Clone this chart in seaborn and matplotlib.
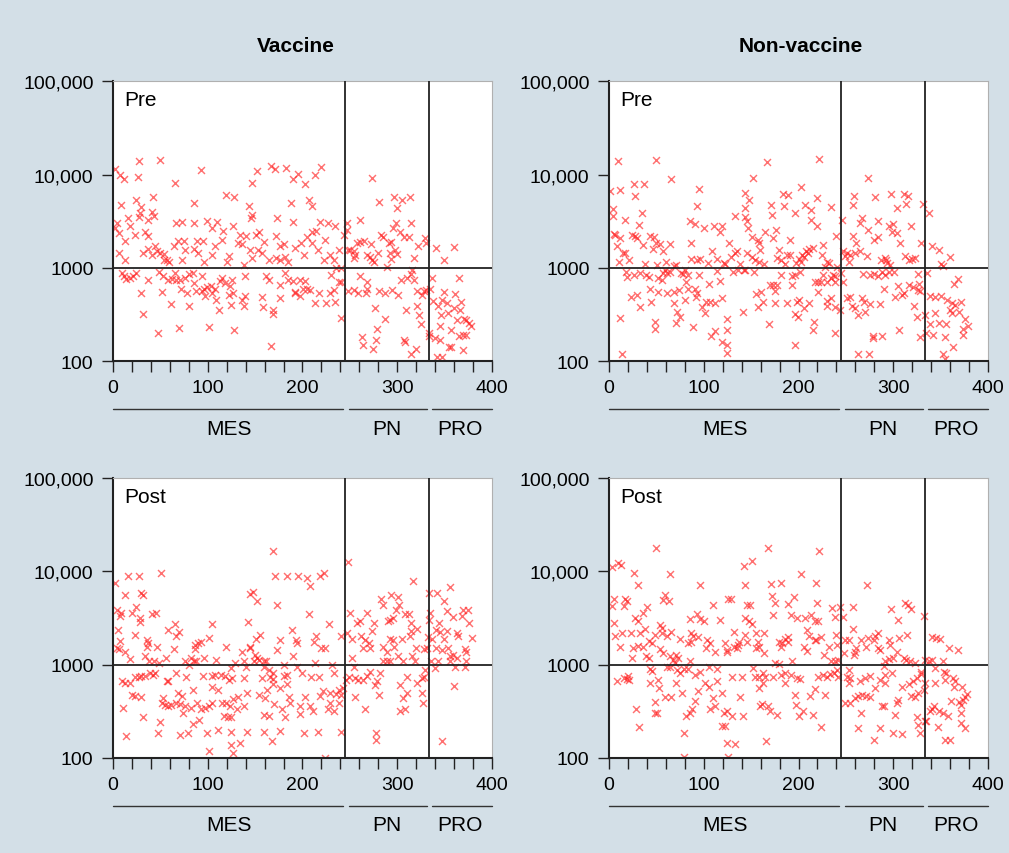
import pandas as pd
import seaborn as sns
import matplotlib.pyplot as plt
import matplotlib.transforms as mtransforms
from matplotlib.ticker import MultipleLocator, NullLocator

sns.set_style('ticks')
plt.rcParams['font.family'] = ['Liberation Sans', 'DejaVu Sans']
plt.rcParams['text.color'] = 'black'
plt.rcParams['xtick.color'] = '#222222'
plt.rcParams['ytick.color'] = '#222222'
plt.rcParams['xtick.labelcolor'] = 'black'
plt.rcParams['ytick.labelcolor'] = 'black'

# (sample index, value), one list per panel
vac_pre = [
    (2, 11500), (7, 10000), (12, 9000), (26, 9400), (27, 14000), (50, 14400), (65, 8200), (93, 11200), (119, 6100), (128, 5800),
    (42, 5800), (24, 5400), (8, 4700), (30, 4500), (86, 5000), (28, 3900), (41, 4000), (43, 3600), (37, 3300), (27, 3500),
    (4, 3000), (16, 3400), (18, 2800), (2, 2700), (6, 2350), (13, 1950), (23, 2250), (34, 2400), (37, 2200), (67, 3000),
    (73, 3100), (86, 3000), (99, 3200), (104, 2700), (110, 3100), (116, 2500), (127, 2800),
    (44, 1700), (46, 1500), (37, 1600), (32, 1450), (41, 1380), (50, 1450), (54, 1400), (57, 1220), (59, 1170), (54, 1220),
    (64, 1700), (69, 1950), (75, 1950), (76, 1560), (73, 1220), (86, 1600), (89, 1950), (95, 1950), (90, 1450), (96, 1170),
    (104, 1380), (108, 1700), (115, 2000), (120, 1170), (122, 1350), (6, 1450), (13, 1200),
    (9, 890), (12, 810), (14, 760), (18, 780), (21, 810), (24, 880), (37, 740), (49, 910), (53, 810), (58, 740),
    (62, 760), (65, 880), (66, 740), (71, 740), (76, 780), (80, 860), (84, 880), (86, 690), (94, 820), (96, 590),
    (103, 640), (108, 590), (113, 730), (115, 780), (118, 690), (124, 640), (126, 740), (72, 600), (78, 535), (80, 390),
    (88, 560), (94, 560), (97, 500), (99, 630), (105, 535), (109, 455), (122, 510), (125, 400), (112, 355), (30, 535),
    (52, 545), (61, 410), (32, 320), (47, 200), (70, 225), (101, 235), (128, 215),
    (167, 12400), (171, 11400), (152, 11000), (183, 11700), (195, 10200), (190, 9000), (203, 7900), (213, 10000), (220, 12000), (147, 8200),
    (144, 4600), (188, 5000), (207, 5400), (210, 4600), (147, 3700), (146, 3400), (173, 3400), (190, 3100), (219, 3100),
    (227, 3000), (234, 2800), (134, 2250), (140, 2200), (151, 2250), (154, 2450), (172, 2200), (159, 1900), (132, 1850),
    (136, 1800), (145, 1550), (147, 1270), (153, 1550), (157, 1450), (176, 1700), (181, 1800), (192, 1650), (198, 1850), (205, 2150),
    (210, 2400), (214, 2500), (210, 1850), (202, 1380), (216, 1550), (224, 2000), (229, 1380), (223, 1220), (233, 1200), (239, 1550),
    (244, 2250), (247, 3000), (248, 1550), (138, 1080), (165, 1200), (172, 1270), (176, 1220), (182, 1320), (185, 1170), (162, 810),
    (165, 740), (176, 660), (182, 880), (185, 740), (190, 720), (197, 740), (203, 730), (205, 590), (201, 590), (208, 580),
    (192, 555), (197, 500), (217, 535), (229, 535), (233, 580), (238, 700), (241, 710), (230, 840), (235, 990),
    (139, 810), (127, 535), (136, 455), (139, 500), (138, 390), (158, 385), (157, 490), (169, 355),
    (169, 320), (176, 475), (192, 540), (213, 420), (225, 420), (234, 435), (241, 290), (167, 145),
    (273, 9300), (281, 5100), (297, 5800), (305, 5300), (313, 5800), (300, 4350), (261, 3250), (299, 3050), (315, 3000), (296, 2700),
    (247, 2550), (283, 2250), (285, 2150), (303, 2400), (307, 2150), (312, 2150), (293, 1900), (291, 1850), (329, 2100), (330, 1850),
    (322, 1700), (257, 1850), (261, 1900), (265, 1950), (272, 1800), (250, 1550), (254, 1500), (255, 1380), (254, 1270), (268, 1380),
    (271, 1320), (273, 1220), (275, 1170), (280, 1450), (292, 1450), (293, 1240), (298, 1550), (300, 1400), (318, 1270), (289, 1030),
    (241, 990), (316, 940), (261, 820), (268, 700), (268, 600), (248, 570), (254, 580), (259, 540), (267, 535), (281, 570),
    (287, 540), (294, 580), (301, 510), (304, 740), (310, 780), (314, 860), (318, 740), (321, 560), (326, 510), (328, 570),
    (330, 580), (321, 390), (323, 315), (325, 250), (277, 370), (287, 280), (279, 220), (309, 355), (263, 180), (264, 150),
    (278, 170), (274, 135), (307, 170), (308, 160), (320, 135), (314, 120), (333, 200),
    (341, 1620), (360, 1690), (349, 1220), (337, 780), (365, 770), (335, 590), (349, 555), (361, 520), (367, 435), (338, 440),
    (343, 390), (347, 455), (352, 425), (360, 370), (366, 355), (346, 310), (354, 330), (345, 240), (363, 275), (370, 280),
    (373, 275), (376, 255), (378, 240), (357, 215), (365, 185), (369, 190), (373, 190), (334, 185), (340, 175), (345, 170),
    (355, 140), (357, 140), (369, 132), (342, 110), (347, 110),
]

nonvac_pre = [
    (9, 14000), (50, 14400), (65, 9000), (1, 6700), (12, 6850), (26, 7900), (37, 7900), (27, 5900), (95, 7100), (93, 4600),
    (4, 4250), (4, 3600), (35, 3850), (17, 3300), (32, 2900), (85, 3150), (91, 2950), (100, 2650), (111, 2800), (117, 2400),
    (119, 2800), (5, 2300), (6, 2250), (12, 2100), (24, 2250), (27, 2200), (30, 2100), (43, 2200), (47, 2150), (8, 1700),
    (36, 1750), (46, 1600), (50, 1850), (54, 1800), (64, 1800), (87, 1850), (15, 1450), (17, 1440), (57, 1500), (109, 1500),
    (127, 1870), (10, 1170), (21, 1220), (38, 1100), (51, 1080), (60, 1170), (71, 1080), (86, 1240), (93, 1220), (96, 1240),
    (104, 1120), (114, 1240), (121, 1140), (18, 910), (19, 800), (26, 840), (33, 890), (39, 840), (42, 800), (52, 780),
    (57, 890), (59, 950), (61, 880), (64, 910), (56, 740), (69, 1050), (76, 890), (80, 950), (78, 860), (83, 840),
    (81, 710), (95, 840), (106, 670), (114, 930), (117, 730), (23, 490), (29, 510), (33, 385), (43, 590), (44, 435),
    (52, 555), (61, 535), (69, 545), (74, 580), (69, 420), (72, 340), (75, 300), (71, 255), (80, 455), (83, 590),
    (91, 600), (93, 535), (92, 490), (98, 385), (102, 435), (107, 435), (112, 425), (119, 475), (101, 325), (89, 235),
    (12, 290), (49, 265), (49, 220), (108, 185), (112, 210), (119, 160), (124, 280), (124, 215), (14, 120),
    (167, 13800), (222, 14600), (152, 9300), (203, 7450), (143, 6300), (148, 5300), (184, 6200), (189, 6000), (219, 5600), (171, 4750),
    (185, 4600), (207, 4750), (213, 4200), (234, 4450), (143, 4350), (133, 3600), (144, 3550), (172, 3700), (196, 3850), (146, 3200),
    (213, 3250), (220, 2800), (147, 2650), (176, 2550), (151, 2150), (165, 2400), (173, 2100), (157, 2000), (158, 1850), (159, 1550),
    (191, 2000), (226, 1760), (240, 2200), (133, 1450), (146, 1450), (151, 1320), (154, 1220), (158, 1170), (164, 1100), (179, 1550),
    (177, 1270), (182, 1220), (186, 1100), (188, 1380), (191, 1380), (197, 1140), (201, 1240), (204, 1380), (208, 1500), (211, 1580),
    (215, 1620), (210, 1460), (206, 1320), (203, 1170), (225, 1380), (230, 1170), (232, 1140), (122, 1100), (129, 1320), (135, 1500),
    (131, 910), (136, 950), (138, 1100), (142, 950), (144, 960), (153, 910), (182, 840), (193, 820), (196, 840), (202, 910),
    (226, 840), (228, 1030), (236, 840), (239, 810), (241, 1030), (170, 660), (173, 660), (177, 660), (193, 660), (217, 700),
    (221, 700), (224, 700), (230, 700), (234, 770), (239, 710), (175, 570), (155, 525), (160, 555), (162, 435), (157, 385),
    (175, 420), (188, 420), (198, 435), (201, 455), (211, 420), (206, 370), (221, 555), (230, 445), (234, 475), (230, 390),
    (239, 385), (244, 350), (141, 335), (196, 320), (199, 295), (216, 265), (169, 250), (215, 215), (238, 200), (196, 150),
    (125, 150), (125, 122),
    (273, 9300), (259, 5900), (257, 4700), (281, 5800), (298, 6150), (311, 6150), (316, 5900), (313, 4850), (304, 4400), (331, 4850),
    (246, 3250), (267, 3450), (265, 3050), (284, 3200), (273, 2550), (296, 2800), (300, 2950), (299, 2450), (304, 2350), (319, 2800),
    (258, 2200), (261, 1870), (284, 2150), (280, 2000), (307, 1850), (329, 1850), (247, 1500), (251, 1440), (249, 1350), (254, 1380),
    (253, 1170), (260, 1450), (265, 1500), (272, 1350), (287, 1220), (291, 1270), (292, 1200), (293, 1140), (297, 1080), (312, 1350),
    (317, 1220), (320, 1240), (323, 1270), (245, 880), (247, 710), (268, 860), (275, 840), (280, 860), (284, 820), (288, 910),
    (291, 840), (295, 910), (301, 910), (326, 860), (290, 600), (305, 640), (309, 510), (311, 540), (317, 660), (321, 630),
    (326, 580), (328, 560), (327, 670), (251, 470), (254, 490), (256, 390), (260, 375), (267, 470), (269, 435), (275, 410),
    (286, 410), (302, 490), (263, 315), (270, 340), (322, 390), (325, 300), (306, 215), (279, 185), (279, 175), (288, 185),
    (263, 120), (274, 118), (328, 180),
    (338, 3900), (336, 880), (341, 1720), (348, 1560), (360, 1320), (350, 1100), (353, 1050), (368, 760), (364, 670), (339, 500),
    (344, 490), (350, 500), (357, 455), (362, 420), (372, 435), (365, 400), (360, 350), (362, 330), (369, 335), (356, 250),
    (344, 330), (334, 315), (339, 250), (348, 255), (376, 280), (379, 240), (374, 220), (374, 190), (335, 200), (342, 190),
    (355, 180), (363, 140), (353, 120), (355, 105),
]

vac_post = [
    (51, 9700), (16, 9000), (27, 9000), (2, 7550), (13, 5550), (30, 5900), (32, 5550), (24, 4100), (4, 3850), (8, 3600),
    (7, 3300), (20, 3600), (41, 3500), (45, 3600), (29, 3150), (28, 2850), (65, 2750), (104, 2750), (58, 2350), (70, 2250),
    (67, 2000), (5, 2350), (23, 2050), (7, 1800), (36, 1840), (37, 1700), (101, 1950), (93, 1760), (90, 1720), (87, 1620),
    (87, 1460), (4, 1500), (6, 1460), (13, 1380), (36, 1530), (46, 1530), (64, 1460), (119, 1530), (18, 1140), (34, 1220),
    (38, 1080), (43, 1080), (49, 1030), (56, 1170), (76, 1080), (82, 1170), (88, 1080), (96, 1170), (109, 1120), (80, 1000),
    (86, 1080), (9, 670), (13, 640), (18, 630), (23, 740), (27, 730), (30, 760), (34, 760), (39, 810), (42, 780),
    (44, 820), (58, 670), (66, 810), (77, 740), (95, 760), (105, 760), (108, 780), (114, 780), (118, 760), (122, 690),
    (126, 710), (57, 660), (104, 580), (111, 535), (20, 470), (23, 455), (30, 450), (53, 435), (69, 490), (73, 460),
    (84, 530), (11, 345), (52, 385), (55, 370), (58, 360), (61, 370), (66, 390), (71, 380), (76, 355), (82, 340),
    (74, 305), (89, 390), (93, 330), (97, 340), (101, 360), (105, 390), (115, 385), (119, 390), (124, 355), (117, 280),
    (121, 277), (125, 275), (32, 277), (50, 240), (48, 185), (14, 170), (84, 230), (79, 185), (71, 175), (91, 255),
    (99, 185), (111, 200), (125, 187), (125, 138), (101, 117), (127, 112),
    (169, 16600), (171, 9000), (184, 9000), (195, 8800), (205, 8500), (218, 9000), (223, 9600), (208, 7000), (145, 5700), (148, 6050),
    (152, 4850), (173, 4350), (207, 3500), (143, 2850), (228, 2700), (189, 2350), (155, 2050), (151, 1870), (176, 1840), (193, 1840),
    (214, 2000), (194, 1690), (212, 1760), (145, 1560), (145, 1500), (173, 1440), (220, 1500), (224, 1500), (136, 1380), (150, 1270),
    (152, 1170), (149, 1080), (154, 1120), (159, 1080), (162, 1080), (190, 1240), (138, 1100), (129, 1030), (140, 950), (125, 910),
    (159, 950), (180, 1000), (194, 950), (213, 1030), (231, 1000), (165, 880), (180, 760), (138, 710), (157, 710), (169, 810),
    (169, 700), (166, 740), (199, 810), (209, 740), (217, 740), (233, 810), (184, 780), (176, 555), (169, 620), (184, 620),
    (141, 500), (132, 450), (154, 470), (160, 435), (163, 530), (170, 380), (186, 450), (187, 390), (203, 450), (197, 360),
    (208, 360), (218, 465), (222, 515), (229, 490), (235, 485), (239, 390), (229, 390), (238, 535), (243, 555), (127, 425),
    (131, 330), (138, 360), (159, 290), (165, 280), (178, 330), (182, 277), (197, 295), (211, 315), (227, 330), (233, 315),
    (141, 190), (159, 190), (176, 195), (168, 150), (202, 185), (216, 187), (241, 187), (134, 144), (224, 100),
    (248, 12700), (317, 7900), (293, 5550), (283, 5000), (285, 4400), (301, 5350), (302, 4400), (299, 3850),
    (250, 3550), (268, 3600), (308, 3500), (312, 3500), (296, 3150), (292, 3000), (290, 2900),
    (257, 2800), (261, 2900), (275, 2800), (315, 2800), (321, 2400), (314, 2300), (273, 2300), (247, 2200), (241, 2000), (252, 1870),
    (262, 2000), (266, 1840), (270, 1720), (271, 1500), (264, 1500), (292, 1870), (296, 1840), (305, 1870), (313, 2000), (332, 1990),
    (285, 1530), (289, 1380), (297, 1560), (320, 1500), (328, 1460), (331, 1500), (252, 1170), (285, 1100), (289, 1100), (292, 1080),
    (301, 1220), (306, 1080), (316, 1220), (319, 1100), (254, 940), (329, 880), (249, 740), (255, 710), (259, 690), (264, 675),
    (268, 760), (271, 840), (282, 810), (279, 660), (277, 600), (310, 740), (303, 600), (321, 640), (326, 710), (328, 730),
    (246, 685), (241, 470), (255, 450), (281, 470), (306, 435), (310, 490), (326, 490), (327, 390), (266, 330), (303, 320),
    (308, 330), (278, 185), (278, 156),
    (334, 5800), (342, 5900), (356, 6850), (349, 4750), (352, 3750), (369, 3850), (375, 3800), (359, 3200), (368, 3300), (335, 3550),
    (333, 3000), (344, 2800), (376, 2800), (341, 2350), (345, 2250), (352, 2300), (363, 2200), (364, 2000), (337, 1870), (349, 1870),
    (379, 1950), (341, 1500), (347, 1440), (354, 1500), (372, 1460), (373, 1380), (336, 1080), (343, 1080), (356, 1220), (359, 1270),
    (363, 1170), (356, 1100), (373, 1080), (340, 910), (361, 940), (371, 950), (360, 590), (347, 153),
]

nonvac_post = [
    (50, 17600), (3, 11200), (9, 12200), (13, 11700), (26, 9700), (64, 9400), (31, 7150), (96, 7150), (59, 5550), (57, 4950),
    (63, 4750), (5, 5000), (17, 5000), (19, 4750), (3, 4250), (16, 4250), (40, 4100), (36, 3550), (110, 4350), (126, 5000),
    (27, 3150), (31, 2950), (85, 3050), (93, 3500), (96, 3050), (100, 2900), (117, 3000), (5, 2800), (54, 2650), (56, 2450),
    (6, 2000), (14, 2200), (23, 2200), (33, 2170), (38, 2400), (48, 2080), (56, 2170), (61, 2000), (65, 2250), (75, 1870),
    (86, 2200), (89, 2000), (94, 1990), (103, 1840), (107, 1690), (12, 1560), (25, 1500), (31, 1580), (36, 1560), (42, 1810),
    (45, 1690), (54, 1460), (57, 1320), (83, 1720), (86, 1760), (102, 1500), (112, 1380), (124, 1380), (122, 1690), (124, 1440),
    (24, 1170), (39, 1240), (42, 1170), (64, 1220), (67, 1120), (71, 1270), (73, 1170), (70, 1030), (85, 1080), (43, 890),
    (45, 860), (61, 940), (64, 940), (72, 880), (75, 810), (79, 890), (83, 890), (91, 780), (96, 840), (105, 950),
    (114, 890), (8, 660), (16, 710), (19, 700), (21, 675), (20, 760), (43, 630), (52, 685), (53, 555), (71, 640),
    (101, 630), (105, 570), (114, 670), (119, 490), (59, 450), (65, 450), (77, 490), (94, 515), (110, 435), (48, 400),
    (91, 410), (112, 355), (88, 330), (28, 330), (49, 300), (51, 300), (107, 330), (85, 300), (81, 282), (121, 305),
    (32, 213), (79, 184), (119, 217), (122, 217), (124, 144), (79, 103),
    (168, 17600), (222, 16700), (151, 13000), (142, 11400), (203, 9400), (144, 7150), (171, 7300), (182, 7450), (218, 7450), (129, 5000),
    (172, 5400), (175, 4550), (189, 4450), (195, 5250), (219, 4600), (146, 4350), (149, 4350), (235, 4000), (244, 4150), (173, 3400),
    (192, 3400), (198, 3150), (207, 3150), (213, 3400), (217, 2950), (221, 2950), (239, 3200), (247, 3200), (143, 3150), (148, 2900),
    (151, 2750), (132, 2250), (144, 2080), (155, 2200), (164, 2200), (189, 1960), (189, 1760), (209, 2350), (211, 2000), (218, 1840),
    (224, 1990), (240, 2080), (137, 1760), (146, 1760), (157, 1760), (158, 1560), (155, 1500), (179, 1760), (183, 1690), (182, 1530),
    (186, 1870), (206, 1530), (209, 1410), (217, 1840), (232, 1530), (241, 1620), (132, 1560), (136, 1620), (135, 1500), (164, 1340),
    (227, 1270), (193, 1090), (175, 1030), (179, 1010), (234, 1080), (239, 1080), (242, 1120), (152, 910), (130, 740), (140, 740),
    (154, 740), (158, 740), (165, 740), (173, 740), (182, 770), (186, 810), (192, 780), (198, 710), (202, 700), (221, 740),
    (226, 770), (230, 740), (233, 790), (237, 810), (241, 880), (162, 810), (158, 555), (162, 630), (186, 630), (217, 545),
    (228, 475), (212, 455), (196, 470), (138, 450), (159, 360), (161, 380), (168, 360), (170, 315), (177, 290), (197, 370),
    (200, 280), (205, 315), (215, 290), (124, 315), (130, 280), (141, 280), (224, 215), (133, 140), (166, 150), (126, 103),
    (272, 7150), (258, 4180), (298, 3900), (312, 4550), (316, 4350), (319, 3900), (332, 3300), (305, 3000), (258, 2400), (249, 1840),
    (253, 1840), (266, 1840), (273, 1920), (281, 2030), (284, 2170), (280, 1840), (295, 1840), (297, 1620), (306, 1920), (314, 2080),
    (271, 1530), (261, 1500), (260, 1380), (284, 1500), (286, 1440), (248, 1320), (259, 1270), (304, 1380), (291, 1080), (295, 1140),
    (300, 1170), (311, 1170), (313, 1120), (318, 1100), (323, 1050), (290, 970), (291, 770), (253, 880), (251, 740), (254, 710),
    (253, 630), (265, 670), (270, 710), (275, 760), (286, 685), (291, 640), (299, 810), (321, 670), (325, 710), (329, 840),
    (329, 800), (242, 740), (281, 555), (309, 570), (317, 620), (326, 490), (332, 535), (249, 385), (254, 390), (260, 435),
    (263, 455), (267, 470), (271, 460), (275, 450), (305, 420), (304, 390), (319, 455), (323, 450), (288, 360), (290, 360),
    (266, 300), (302, 290), (325, 275), (326, 225), (334, 250), (263, 210), (286, 210), (300, 184), (309, 181), (328, 184),
    (280, 156),
    (341, 1990), (345, 1920), (349, 1870), (359, 1500), (368, 1440), (352, 1080), (334, 1120), (338, 1100), (341, 1120), (344, 910),
    (354, 840), (356, 810), (334, 640), (344, 640), (355, 685), (363, 710), (365, 670), (364, 570), (373, 580), (378, 480),
    (376, 450), (374, 420), (361, 410), (369, 400), (372, 370), (343, 360), (341, 335), (348, 315), (353, 305), (358, 280),
    (371, 305), (339, 315), (335, 250), (347, 215), (371, 235), (376, 210), (355, 156), (360, 156),
]

col_titles = ['Vaccine', 'Non-vaccine']
row_labels = ['Pre', 'Post']
group_names = ['MES', 'PN', 'PRO']
group_edges = [0, 245, 333, 400]
xticks = [0, 100, 200, 300, 400]
yticks = [100, 1000, 10000, 100000]
ytick_labels = ['100', '1000', '10,000', '100,000']

bg = '#d3dfe7'
fig = plt.figure(figsize=(10.09, 8.54), dpi=100, facecolor=bg)

panels = [[vac_pre, nonvac_pre], [vac_post, nonvac_post]]
lefts = [0.112, 0.6036]
bottoms = [0.576, 0.1115]
w, h = 0.3756, 0.3275

for r in range(2):
    for c in range(2):
        ax = fig.add_axes([lefts[c], bottoms[r], w, h])
        df = pd.DataFrame(panels[r][c], columns=['idx', 'value'])
        sns.scatterplot(data=df, x='idx', y='value', marker='x', color='#ff1a1a',
                        s=25, linewidth=1.05, alpha=0.62, ax=ax, legend=False)
        ax.set_yscale('log')
        ax.set_xlim(group_edges[0], group_edges[-1])
        ax.set_ylim(yticks[0], yticks[-1])
        ax.set_xlabel('')
        ax.set_ylabel('')

        # group boundaries and the 1000 reference line
        for e in group_edges[1:-1]:
            ax.axvline(e, color='#222222', lw=1.3, zorder=3)
        ax.axhline(1000, color='#222222', lw=1.3, zorder=3)

        ax.set_xticks(xticks)
        ax.xaxis.set_minor_locator(MultipleLocator(20))
        ax.set_yticks(yticks, ytick_labels)
        ax.yaxis.set_minor_locator(NullLocator())
        ax.tick_params(axis='x', which='both', length=8, width=1, labelsize=14, pad=5)
        ax.tick_params(axis='y', which='major', length=8, width=1, labelsize=14, pad=6)

        for side in ['left', 'bottom']:
            ax.spines[side].set_color('#222222')
            ax.spines[side].set_linewidth(1.5)
        for side in ['top', 'right']:
            ax.spines[side].set_color('#b0b0b0')
            ax.spines[side].set_linewidth(0.8)

        ax.text(0.029, 0.935, row_labels[r], transform=ax.transAxes,
                fontsize=15, ha='left', va='center')

        # MES / PN / PRO brackets under the axis
        trans = mtransforms.blended_transform_factory(ax.transData, ax.transAxes)
        for i, name in enumerate(group_names):
            x0 = group_edges[i] + (4 if i > 0 else 0)
            x1 = group_edges[i + 1] - (2 if i < 2 else 0)
            ax.plot([x0, x1], [-0.171, -0.171], transform=trans, clip_on=False,
                    color='#333333', lw=1)
            ax.text((group_edges[i] + group_edges[i + 1]) / 2, -0.24, name,
                    transform=trans, ha='center', va='center', fontsize=15)

fig.text(0.2934, 0.945, col_titles[0], ha='center', va='center', fontsize=15, fontweight='bold')
fig.text(0.794, 0.945, col_titles[1], ha='center', va='center', fontsize=15, fontweight='bold')

fig.savefig('out.png', dpi=100, facecolor=bg)
